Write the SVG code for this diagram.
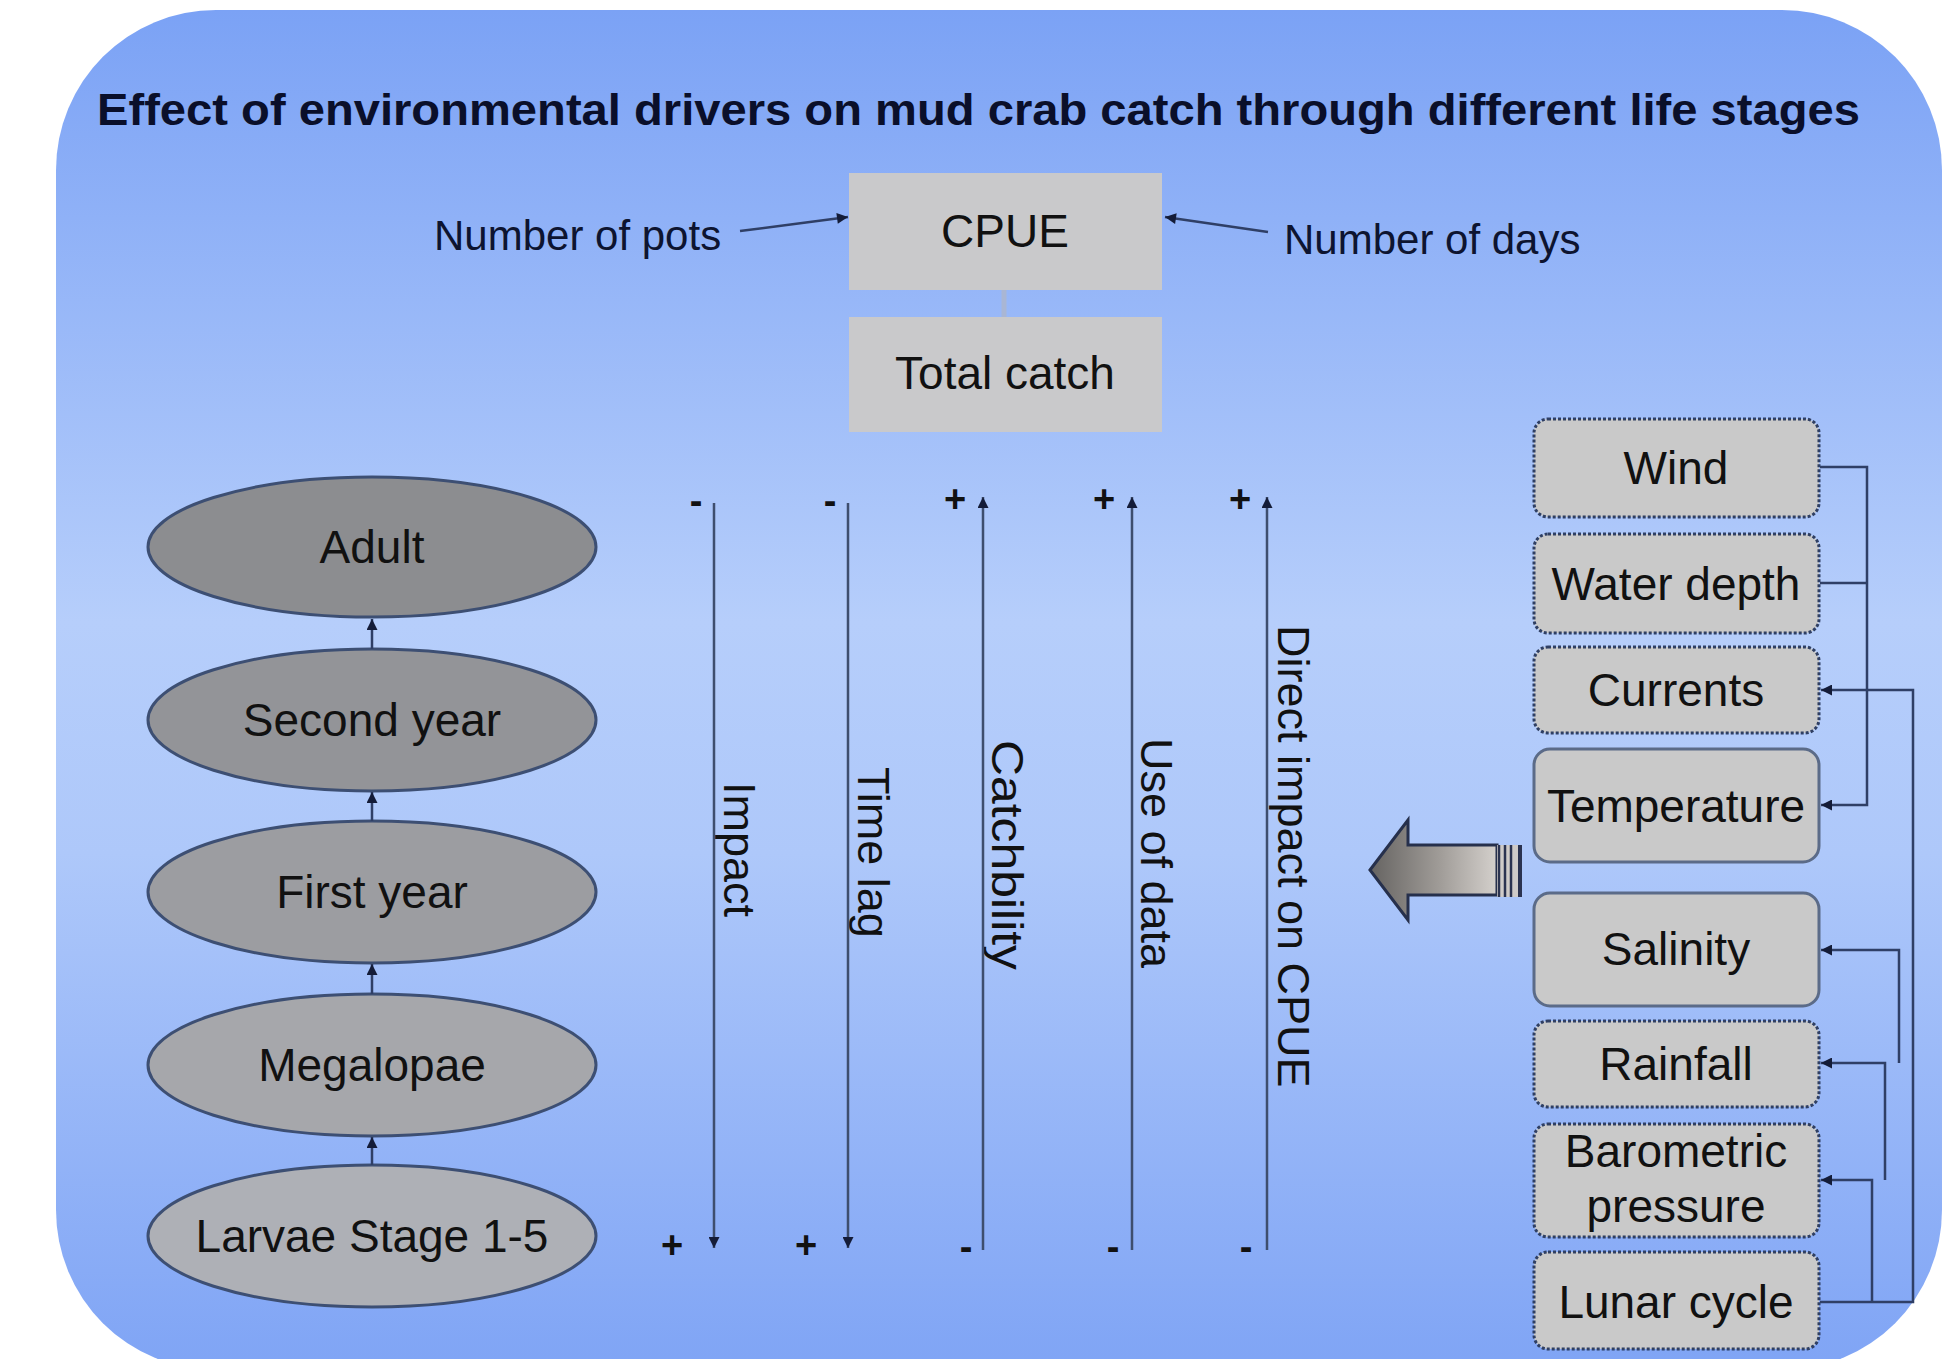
<svg xmlns="http://www.w3.org/2000/svg" width="1948" height="1359" viewBox="0 0 1948 1359">
<defs>
<linearGradient id="bg" x1="0" y1="0" x2="0" y2="1">
<stop offset="0" stop-color="#7ba2f5"/>
<stop offset="0.45" stop-color="#b6cefb"/>
<stop offset="0.62" stop-color="#aec8fa"/>
<stop offset="1" stop-color="#7fa4f5"/>
</linearGradient>
<linearGradient id="bigarrow" x1="0" y1="0" x2="1" y2="0">
<stop offset="0" stop-color="#656361"/>
<stop offset="0.55" stop-color="#a09c98"/>
<stop offset="1" stop-color="#d4d0cc"/>
</linearGradient>
<marker id="ah" viewBox="0 0 10 10" refX="10" refY="5" markerWidth="13" markerHeight="11" markerUnits="userSpaceOnUse" orient="auto">
<path d="M0,0 L10,5 L0,10 z" fill="#141c38"/>
</marker>
<style>
text{font-family:"Liberation Sans",Arial,sans-serif;fill:#111;}
.title{font-weight:bold;font-size:44px;fill:#0a0f2a;}
.box{fill:#c9c9cb;}
.lbl{font-size:46px;text-anchor:middle;}
.side{font-size:42px;fill:#0d1430;}
.ell{stroke:#3d4f73;stroke-width:3;}
.drv{fill:#c9c9c9;}
.dot{stroke:#2f3f63;stroke-width:3;stroke-dasharray:3 2;}
.sol{stroke:#5b6b88;stroke-width:3;}
.vl{stroke:#3e4e6e;stroke-width:2.5;fill:none;}
.cn{stroke:#2f3f66;stroke-width:2.5;fill:none;}
.rot{font-size:45px;}
.sg{font-size:38px;font-weight:bold;text-anchor:middle;fill:#111;}
</style>
</defs>
<rect x="0" y="0" width="1948" height="1359" fill="#ffffff"/>
<rect x="56" y="10" width="1886" height="1360" rx="160" ry="160" fill="url(#bg)"/>
<text class="title" x="97" y="125" textLength="1763" lengthAdjust="spacingAndGlyphs">Effect of environmental drivers on mud crab catch through different life stages</text>

<g id="cpue"><rect class="box" x="849" y="173" width="313" height="117"/><text class="lbl" x="1005" y="247">CPUE</text></g>
<g id="total-catch"><rect class="box" x="849" y="317" width="313" height="115"/><text class="lbl" x="1005" y="389">Total catch</text></g>
<g id="number-of-pots"><text class="side" x="434" y="250">Number of pots</text></g>
<g id="number-of-days"><text class="side" x="1284" y="254">Number of days</text></g>

<g id="adult"><ellipse class="ell" cx="372" cy="547" rx="224" ry="70" fill="#8c8d90"/><text class="lbl" x="372" y="563">Adult</text></g>
<g id="second-year"><ellipse class="ell" cx="372" cy="720" rx="224" ry="71" fill="#939498"/><text class="lbl" x="372" y="736">Second year</text></g>
<g id="first-year"><ellipse class="ell" cx="372" cy="892" rx="224" ry="71" fill="#9c9da1"/><text class="lbl" x="372" y="908">First year</text></g>
<g id="megalopae"><ellipse class="ell" cx="372" cy="1065" rx="224" ry="71" fill="#a6a7ab"/><text class="lbl" x="372" y="1081">Megalopae</text></g>
<g id="larvae"><ellipse class="ell" cx="372" cy="1236" rx="224" ry="71" fill="#aeb0b6"/><text class="lbl" x="372" y="1252">Larvae Stage 1-5</text></g>

<g id="wind"><rect class="drv dot" x="1534" y="419" width="285" height="98" rx="14"/><text class="lbl" x="1676" y="484">Wind</text></g>
<g id="water-depth"><rect class="drv dot" x="1534" y="534" width="285" height="99" rx="14"/><text class="lbl" x="1676" y="600">Water depth</text></g>
<g id="currents"><rect class="drv dot" x="1534" y="647" width="285" height="86" rx="14"/><text class="lbl" x="1676" y="706">Currents</text></g>
<g id="temperature"><rect class="drv sol" x="1534" y="749" width="285" height="113" rx="16"/><text class="lbl" x="1676" y="822">Temperature</text></g>
<g id="salinity"><rect class="drv sol" x="1534" y="893" width="285" height="113" rx="16"/><text class="lbl" x="1676" y="965">Salinity</text></g>
<g id="rainfall"><rect class="drv dot" x="1534" y="1021" width="285" height="86" rx="14"/><text class="lbl" x="1676" y="1080">Rainfall</text></g>
<g id="barometric-pressure"><rect class="drv dot" x="1534" y="1124" width="285" height="113" rx="14"/><text class="lbl" x="1676" y="1167">Barometric</text><text class="lbl" x="1676" y="1222">pressure</text></g>
<g id="lunar-cycle"><rect class="drv dot" x="1534" y="1252" width="285" height="97" rx="14"/><text class="lbl" x="1676" y="1318">Lunar cycle</text></g>

<g id="big-arrow">
<path d="M1370,870 L1408,820 L1408,845 L1497,845 L1497,895 L1408,895 L1408,920 Z" fill="url(#bigarrow)" stroke="#26304c" stroke-width="3" stroke-linejoin="miter"/>
<rect x="1497" y="845" width="25" height="52" fill="#cfcbc8"/>
<g stroke="#2b3350" stroke-width="2.5">
<line x1="1499" y1="845" x2="1499" y2="897"/>
<line x1="1505" y1="845" x2="1505" y2="897"/>
<line x1="1511" y1="845" x2="1511" y2="897"/>
<line x1="1520" y1="845" x2="1520" y2="897" stroke-width="4"/>
</g>
</g>

<g id="labels">
<text class="rot" transform="translate(724,782) rotate(90)">Impact</text>
<text class="rot" transform="translate(858,767) rotate(90)">Time lag</text>
<text class="rot" transform="translate(992,740) rotate(90)" textLength="230" lengthAdjust="spacingAndGlyphs">Catchbility</text>
<text class="rot" transform="translate(1141,738) rotate(90)">Use of data</text>
<text class="rot" transform="translate(1278,625) rotate(90)">Direct impact on CPUE</text>
<text class="sg" x="696" y="514">-</text>
<text class="sg" x="830" y="514">-</text>
<text class="sg" x="955" y="512">+</text>
<text class="sg" x="1104" y="512">+</text>
<text class="sg" x="1240" y="512">+</text>
<text class="sg" x="672" y="1258">+</text>
<text class="sg" x="806" y="1258">+</text>
<text class="sg" x="966" y="1260">-</text>
<text class="sg" x="1113" y="1260">-</text>
<text class="sg" x="1246" y="1260">-</text>
</g>

<g id="connectors">
<line class="cn" x1="740" y1="231" x2="848" y2="217" marker-end="url(#ah)"/>
<line class="cn" x1="1268" y1="232" x2="1165" y2="217" marker-end="url(#ah)"/>
<line x1="1004" y1="290" x2="1004" y2="317" stroke="#a9b6d4" stroke-width="5"/>

<line class="cn" x1="372" y1="649" x2="372" y2="619" marker-end="url(#ah)"/>
<line class="cn" x1="372" y1="821" x2="372" y2="792" marker-end="url(#ah)"/>
<line class="cn" x1="372" y1="994" x2="372" y2="964" marker-end="url(#ah)"/>
<line class="cn" x1="372" y1="1165" x2="372" y2="1137" marker-end="url(#ah)"/>

<line class="vl" x1="714" y1="503" x2="714" y2="1248" marker-end="url(#ah)"/>
<line class="vl" x1="848" y1="503" x2="848" y2="1248" marker-end="url(#ah)"/>
<line class="vl" x1="983" y1="1250" x2="983" y2="497" marker-end="url(#ah)"/>
<line class="vl" x1="1132" y1="1250" x2="1132" y2="497" marker-end="url(#ah)"/>
<line class="vl" x1="1267" y1="1250" x2="1267" y2="497" marker-end="url(#ah)"/>

<polyline class="cn" points="1820,467 1867,467 1867,805 1821,805" marker-end="url(#ah)"/>
<line class="cn" x1="1820" y1="583" x2="1867" y2="583"/>
<polyline class="cn" points="1820,1302 1913,1302 1913,690 1821,690" marker-end="url(#ah)"/>
<polyline class="cn" points="1872,1302 1872,1180 1821,1180" marker-end="url(#ah)"/>
<polyline class="cn" points="1885,1180 1885,1063 1821,1063" marker-end="url(#ah)"/>
<polyline class="cn" points="1899,1063 1899,950 1821,950" marker-end="url(#ah)"/>
</g>
</svg>
